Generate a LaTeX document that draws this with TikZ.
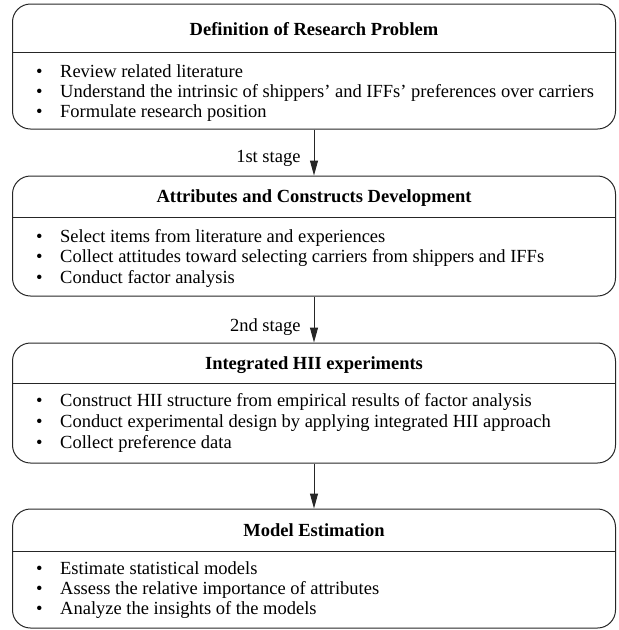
\documentclass[tikz,border=0pt]{standalone}
\usepackage{fontspec}
\setmainfont{Liberation Serif}
\usetikzlibrary{arrows.meta}

\newcommand{\diagfont}{\fontsize{18.5}{20}\selectfont}
\newcommand{\bitem}[1]{\makebox[24pt][l]{\textbullet}#1}

\tikzset{
  stagebox/.style={draw=black!85, line width=1pt, rounded corners=18pt,
    minimum width=603pt, inner sep=0pt},
  divider/.style={draw=black!85, line width=1pt},
  boxtitle/.style={anchor=base, inner sep=0pt, font=\diagfont\bfseries},
  item/.style={anchor=base west, inner sep=0pt},
  flow/.style={draw=black!85, line width=1pt, -{Triangle[length=15pt,width=8pt]}},
  stagelabel/.style={anchor=east, inner sep=0pt, xshift=-13pt}
}

\begin{document}
\begin{tikzpicture}[x=1pt, y=-1pt, font=\diagfont]
  \useasboundingbox (0,0) rectangle (619,630);

  % stage boxes
  \node[stagebox, minimum height=125pt] (b1) at (314,66.5) {};
  \node[stagebox, minimum height=120pt] (b2) at (314,236) {};
  \node[stagebox, minimum height=120pt] (b3) at (314,403) {};
  \node[stagebox, minimum height=119pt] (b4) at (314,568.5) {};

  % title separators
  \draw[divider] (b1.west |- 0,52) -- (b1.east |- 0,52);
  \draw[divider] (b2.west |- 0,217) -- (b2.east |- 0,217);
  \draw[divider] (b3.west |- 0,383) -- (b3.east |- 0,383);
  \draw[divider] (b4.west |- 0,551) -- (b4.east |- 0,551);

  % box 1
  \node[boxtitle] (t1) at (314,35) {Definition of Research Problem};
  \node[item] (i11) at (36,77) {\bitem{Review related literature}};
  \node[item] (i12) at (36,97) {\bitem{Understand the intrinsic of shippers’ and IFFs’ preferences over carriers}};
  \node[item] (i13) at (36,117) {\bitem{Formulate research position}};

  % box 2
  \node[boxtitle] (t2) at (314,202) {Attributes and Constructs Development};
  \node[item] (i21) at (36,242) {\bitem{Select items from literature and experiences}};
  \node[item] (i22) at (36,262) {\bitem{Collect attitudes toward selecting carriers from shippers and IFFs}};
  \node[item] (i23) at (36,283) {\bitem{Conduct factor analysis}};

  % box 3
  \node[boxtitle] (t3) at (314,369) {Integrated HII experiments};
  \node[item] (i31) at (36,406) {\bitem{Construct HII structure from empirical results of factor analysis}};
  \node[item] (i32) at (36,427) {\bitem{Conduct experimental design by applying integrated HII approach}};
  \node[item] (i33) at (36,448) {\bitem{Collect preference data}};

  % box 4
  \node[boxtitle] (t4) at (314,536) {Model Estimation};
  \node[item] (i41) at (36,574) {\bitem{Estimate statistical models}};
  \node[item] (i42) at (36,594) {\bitem{Assess the relative importance of attributes}};
  \node[item] (i43) at (36,614) {\bitem{Analyze the insights of the models}};

  % flow between stages
  \draw[flow] (b1.south) -- (b2.north) node[stagelabel, pos=0.63] (l1) {1st stage};
  \draw[flow] (b2.south) -- (b3.north) node[stagelabel, pos=0.66] (l2) {2nd stage};
  \draw[flow] (b3.south) -- (b4.north);
\end{tikzpicture}
\end{document}
